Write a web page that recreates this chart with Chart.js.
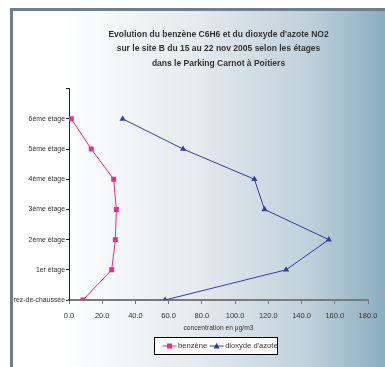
<!DOCTYPE html>
<html>
<head>
<meta charset="utf-8">
<script src="https://cdn.jsdelivr.net/npm/chart.js@4.4.1/dist/chart.umd.min.js"></script>
<style>
  html, body { margin: 0; padding: 0; background: #fff; overflow: hidden; }
</style>
</head>
<body>
<canvas id="chart" width="385" height="367"></canvas>
<script>
// Floors, from ground level upwards (y index 0..6)
var FLOORS = ['rez-de-chaussée', '1er étage', '2ème étage', '3ème étage', '4ème étage', '5ème étage', '6ème étage'];
// Concentrations in µg/m3, same order as FLOORS
var BENZENE = [8.4, 25.7, 27.9, 28.5, 26.9, 13.4, 1.4];
var NO2 = [57.8, 130.7, 156.4, 117.7, 111.6, 68.7, 32.3];
// Concentration axis ticks
var X_TICKS = [0, 20, 40, 60, 80, 100, 120, 140, 160, 180];

var TITLE = [
  'Evolution du benzène C6H6 et du dioxyde d\'azote NO2',
  'sur le site B du 15 au 22 nov 2005 selon les étages',
  'dans le Parking Carnot à Poitiers'
];

var PINK = '#ee2a8f';
var NAVY = '#343c9c';
var TEXT = '#333333';
var FONT = "'Liberation Sans', Arial, sans-serif";

function points(values) {
  return values.map(function (v, i) { return { x: v, y: i }; });
}

// Framed panel with the white-to-steel-blue gradient behind the plot
var panel = {
  id: 'panel',
  beforeDraw: function (chart) {
    var ctx = chart.ctx, w = chart.width, h = chart.height;
    ctx.save();
    ctx.fillStyle = '#fff';
    ctx.fillRect(0, 0, w, h);
    var g = ctx.createLinearGradient(12, 0, w, 0);
    g.addColorStop(0, '#ffffff');
    g.addColorStop(0.13, '#ffffff');
    g.addColorStop(0.5, '#e4eaee');
    g.addColorStop(0.8, '#bfd0da');
    g.addColorStop(1, '#8badc1');
    ctx.fillStyle = g;
    ctx.fillRect(12, 11, w - 12, h - 11);
    ctx.fillStyle = '#6e808c';
    ctx.fillRect(10, 8, w - 10, 3);
    ctx.fillRect(10, 8, 3, h - 8);
    ctx.restore();
  }
};

// Boxed legend under the axis title: line + marker + label per series
var boxedLegend = {
  id: 'boxedLegend',
  afterDraw: function (chart) {
    var ctx = chart.ctx;
    var box = { x: 154.5, y: 337.5, w: 123, h: 17 };
    ctx.save();
    ctx.fillStyle = '#fff';
    ctx.fillRect(box.x, box.y, box.w, box.h);
    ctx.strokeStyle = '#000';
    ctx.lineWidth = 1;
    ctx.strokeRect(box.x, box.y, box.w, box.h);
    ctx.font = '7.6px ' + FONT;
    ctx.textBaseline = 'middle';
    var cy = box.y + box.h / 2;
    var x = box.x + 8;
    chart.data.datasets.forEach(function (ds) {
      ctx.strokeStyle = ds.borderColor;
      ctx.fillStyle = ds.borderColor;
      ctx.beginPath();
      ctx.moveTo(x, cy);
      ctx.lineTo(x + 14, cy);
      ctx.stroke();
      var mx = x + 7;
      if (ds.pointStyle === 'rect') {
        ctx.fillRect(mx - 2.5, cy - 2.5, 5, 5);
      } else {
        ctx.beginPath();
        ctx.moveTo(mx, cy - 3.2);
        ctx.lineTo(mx + 3, cy + 2.4);
        ctx.lineTo(mx - 3, cy + 2.4);
        ctx.closePath();
        ctx.fill();
      }
      ctx.fillStyle = TEXT;
      ctx.fillText(ds.label, x + 15.5, cy);
      x += 15.5 + ctx.measureText(ds.label).width + 2.5;
    });
    ctx.restore();
  }
};

new Chart(document.getElementById('chart'), {
  type: 'scatter',
  data: {
    datasets: [
      { label: 'benzène', data: points(BENZENE), showLine: true, borderColor: PINK, backgroundColor: PINK,
        borderWidth: 1, pointStyle: 'rect', pointRadius: 3.5, pointBorderWidth: 0 },
      { label: 'dioxyde d\'azote', data: points(NO2), showLine: true, borderColor: NAVY, backgroundColor: NAVY,
        borderWidth: 1, pointStyle: 'triangle', pointRadius: 3.6, pointBorderWidth: 0 }
    ]
  },
  options: {
    responsive: false,
    animation: false,
    devicePixelRatio: 1,
    layout: { padding: { top: 0, left: 0, right: 17, bottom: 0 } },
    plugins: {
      legend: { display: false },
      tooltip: { enabled: false },
      title: {
        display: true, fullSize: false, text: TITLE, color: TEXT,
        font: { family: FONT, size: 8.5, weight: 'bold', lineHeight: 1.7 },
        padding: { top: 27.3, bottom: 18 }
      }
    },
    scales: {
      x: {
        type: 'linear', position: 'bottom', min: 0, max: 180,
        afterBuildTicks: function (s) { s.ticks = X_TICKS.map(function (v) { return { value: v }; }); },
        afterFit: function (s) { s.height = 67; },
        ticks: { color: TEXT, font: { family: FONT, size: 7.5 }, padding: 7, maxRotation: 0, autoSkip: false,
                 callback: function (v) { return v.toFixed(1); } },
        grid: { drawOnChartArea: false, drawTicks: true, tickLength: 4, color: '#7a7a7a' },
        border: { display: true, color: '#7a7a7a', width: 2 },
        title: { display: true, text: 'concentration en µg/m3', color: TEXT,
                 font: { family: FONT, size: 6.7 }, padding: { top: 0, bottom: 34.8 } }
      },
      y: {
        type: 'linear', position: 'left', min: 0, max: 7,
        afterFit: function (s) { s.width = 69; },
        ticks: { stepSize: 1, color: TEXT, font: { family: FONT, size: 6.9 }, padding: 1, autoSkip: false,
                 callback: function (v) { return FLOORS[v] || ''; } },
        grid: { drawOnChartArea: false, drawTicks: true, tickLength: 3, color: '#222' },
        border: { display: true, color: '#222', width: 1 }
      }
    }
  },
  plugins: [panel, boxedLegend]
});
</script>
</body>
</html>
